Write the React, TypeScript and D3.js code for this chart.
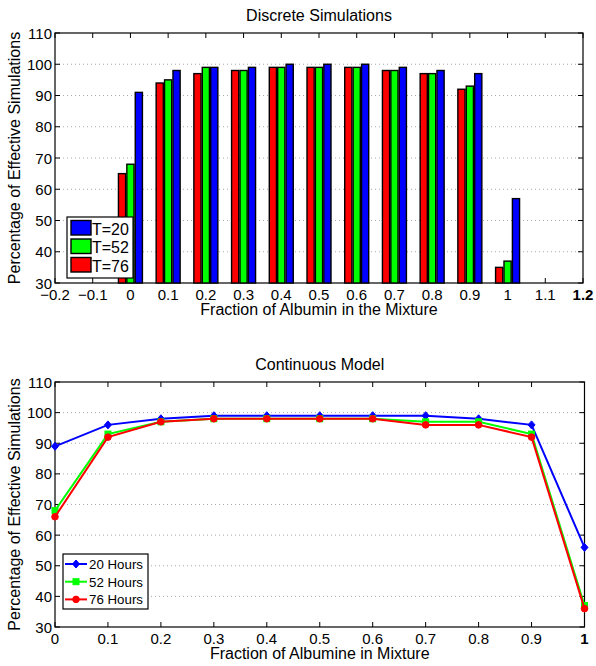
import React from "react";
import * as d3 from "d3";

const W = 596;
const H = 666;
const FONT = "'Liberation Sans', Arial, Helvetica, sans-serif";

// discrete simulations (bar chart)
const barX = [0, 0.1, 0.2, 0.3, 0.4, 0.5, 0.6, 0.7, 0.8, 0.9, 1];
const barT76 = [65, 94, 97, 98, 99, 99, 99, 98, 97, 92, 35];
const barT52 = [68, 95, 99, 98, 99, 99, 99, 98, 97, 93, 37];
const barT20 = [91, 98, 99, 99, 100, 100, 100, 99, 98, 97, 57];
const barXTicks = [-0.2, -0.1, 0, 0.1, 0.2, 0.3, 0.4, 0.5, 0.6, 0.7, 0.8, 0.9, 1, 1.1, 1.2];

// continuous model (line chart)
const lineX = [0, 0.1, 0.2, 0.3, 0.4, 0.5, 0.6, 0.7, 0.8, 0.9, 1];
const h20 = [89, 96, 98, 99, 99, 99, 99, 99, 98, 96, 56];
const h52 = [68, 93, 97, 98, 98, 98, 98, 97, 97, 93, 37];
const h76 = [66, 92, 97, 98, 98, 98, 98, 96, 96, 92, 36];
const lineXTicks = [0, 0.1, 0.2, 0.3, 0.4, 0.5, 0.6, 0.7, 0.8, 0.9, 1];

const yTicks = [30, 40, 50, 60, 70, 80, 90, 100, 110];

const fmt = (v: number) => {
  const s = d3.format("")(Math.round(v * 10) / 10);
  return s.replace("-", "\u2212");
};

const Frame = ({ x, y, xTicks, boldLast, title, xLabel, yLabel }: any) => {
  const [x0, x1] = x.range();
  const [y0, y1] = y.range();
  const tl = 5;
  return (
    <g fontFamily={FONT}>
      {yTicks.slice(1, -1).map((t) => (
        <line key={"g" + t} x1={x0} x2={x1} y1={y(t)} y2={y(t)} stroke="#aaa" strokeWidth={1} strokeDasharray="1,3" />
      ))}
      {xTicks.map((t: number, i: number) => (
        <g key={"x" + i}>
          <line x1={x(t)} x2={x(t)} y1={y0} y2={y0 - tl} stroke="#000" />
          <line x1={x(t)} x2={x(t)} y1={y1} y2={y1 + tl} stroke="#000" />
          <text
            x={x(t)}
            y={y0 + 17}
            textAnchor="middle"
            fontSize={15}
            fontWeight={boldLast && i === xTicks.length - 1 ? "bold" : "normal"}
          >
            {fmt(t)}
          </text>
        </g>
      ))}
      {yTicks.map((t) => (
        <g key={"y" + t}>
          <line x1={x0} x2={x0 + tl} y1={y(t)} y2={y(t)} stroke="#000" />
          <line x1={x1} x2={x1 - tl} y1={y(t)} y2={y(t)} stroke="#000" />
          <text x={x0 - 3} y={y(t) + 5.5} textAnchor="end" fontSize={15}>
            {t}
          </text>
        </g>
      ))}
      <rect x={x0} y={y1} width={x1 - x0} height={y0 - y1} fill="none" stroke="#000" strokeWidth={1.2} />
      <text x={(x0 + x1) / 2} y={y1 - 12} textAnchor="middle" fontSize={16}>
        {title}
      </text>
      <text x={(x0 + x1) / 2} y={y0 + 31.5} textAnchor="middle" fontSize={16}>
        {xLabel}
      </text>
      <text transform={`translate(20,${(y0 + y1) / 2}) rotate(-90)`} textAnchor="middle" fontSize={16}>
        {yLabel}
      </text>
    </g>
  );
};

const BarChart = () => {
  const x = d3.scaleLinear().domain([-0.2, 1.2]).range([55, 583]);
  const y = d3.scaleLinear().domain([30, 110]).range([283, 33]);
  const series = [
    { vals: barT76, color: "#ff0000", off: -0.0223 },
    { vals: barT52, color: "#00ff00", off: 0 },
    { vals: barT20, color: "#0000ff", off: 0.0223 },
  ];
  const bw = x(0.019) - x(0);
  const legend = [
    { label: "T=20", color: "#0000ff" },
    { label: "T=52", color: "#00ff00" },
    { label: "T=76", color: "#ff0000" },
  ];
  return (
    <g>
      <Frame
        x={x}
        y={y}
        xTicks={barXTicks}
        boldLast
        title="Discrete Simulations"
        xLabel="Fraction of Albumin in the Mixture"
        yLabel="Percentage of Effective Simulations"
      />
      {series.map((s, si) =>
        s.vals.map((v, i) => (
          <rect
            key={si + "-" + i}
            x={x(barX[i] + s.off) - bw / 2}
            y={y(v)}
            width={bw}
            height={y(30) - y(v)}
            fill={s.color}
            stroke="#000"
            strokeWidth={1.4}
          />
        ))
      )}
      <g fontFamily={FONT}>
        <rect x={67} y={217} width={66} height={61} fill="#fff" stroke="#000" strokeWidth={1.2} />
        {legend.map((l, i) => (
          <g key={l.label}>
            <rect x={71} y={220.5 + i * 18.5} width={20} height={14.5} fill={l.color} stroke="#000" strokeWidth={1.4} />
            <text x={92} y={234.5 + i * 18.5} fontSize={16}>
              {l.label}
            </text>
          </g>
        ))}
      </g>
    </g>
  );
};

const Marker = ({ kind, cx, cy, color }: any) => {
  if (kind === "diamond")
    return <path d={`M${cx},${cy - 4}L${cx + 3.5},${cy}L${cx},${cy + 4}L${cx - 3.5},${cy}Z`} fill={color} stroke={color} />;
  if (kind === "square") return <rect x={cx - 3} y={cy - 3} width={6} height={6} fill={color} stroke={color} />;
  return <circle cx={cx} cy={cy} r={3.3} fill={color} stroke={color} />;
};

const LineChart = () => {
  const x = d3.scaleLinear().domain([0, 1]).range([55, 584.5]);
  const y = d3.scaleLinear().domain([30, 110]).range([627, 382]);
  const series = [
    { vals: h20, color: "#0000ff", kind: "diamond", label: "20 Hours" },
    { vals: h52, color: "#00ff00", kind: "square", label: "52 Hours" },
    { vals: h76, color: "#ff0000", kind: "circle", label: "76 Hours" },
  ];
  const line = d3
    .line<number>()
    .x((_, i) => x(lineX[i]))
    .y((d) => y(d));
  return (
    <g>
      <Frame
        x={x}
        y={y}
        xTicks={lineXTicks}
        boldLast
        title="Continuous Model"
        xLabel="Fraction of Albumine in Mixture"
        yLabel="Percentage of Effective Simulations"
      />
      {series.map((s) => (
        <g key={s.label}>
          <path d={line(s.vals) || ""} fill="none" stroke={s.color} strokeWidth={2} />
          {s.vals.map((v, i) => (
            <Marker key={i} kind={s.kind} cx={x(lineX[i])} cy={y(v)} color={s.color} />
          ))}
        </g>
      ))}
      <g fontFamily={FONT}>
        <rect x={63} y={554} width={85} height={55} fill="#fff" stroke="#000" strokeWidth={1.2} />
        {series.map((s, i) => (
          <g key={s.label}>
            <line x1={65} x2={87} y1={564 + i * 17.7} y2={564 + i * 17.7} stroke={s.color} strokeWidth={2} />
            <Marker kind={s.kind} cx={76} cy={564 + i * 17.7} color={s.color} />
            <text x={89} y={569 + i * 17.7} fontSize={13.3}>
              {s.label}
            </text>
          </g>
        ))}
      </g>
    </g>
  );
};

export default function App() {
  return (
    <svg width={W} height={H} style={{ position: "absolute", left: 0, top: 0, background: "#fff" }}>
      <BarChart />
      <LineChart />
    </svg>
  );
}
